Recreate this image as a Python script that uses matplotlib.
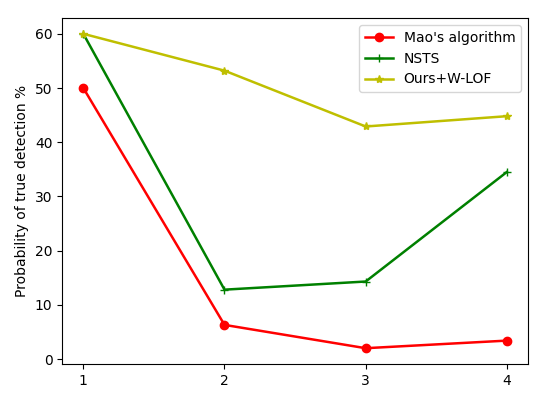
import matplotlib
matplotlib.use('Agg')
import matplotlib.pyplot as plt

x = [1, 2, 3, 4]
mao = [50, 6.3, 2.0, 3.4]
nsts = [60, 12.8, 14.3, 34.5]
ours = [60, 53.2, 42.9, 44.8]

fig = plt.figure(figsize=(5.5, 3.93), dpi=100)
ax = fig.add_axes([0.113, 0.074, 0.847, 0.88])

ax.plot(x, mao, 'r-o', lw=1.8, label="Mao's algorithm")
ax.plot(x, nsts, 'g-+', lw=1.8, label='NSTS')
ax.plot(x, ours, 'y-*', lw=1.8, label='Ours+W-LOF')

ax.set_xticks(x)
ax.set_ylabel('Probability of true detection %')
ax.legend(loc='upper right')

fig.savefig('out.png')
